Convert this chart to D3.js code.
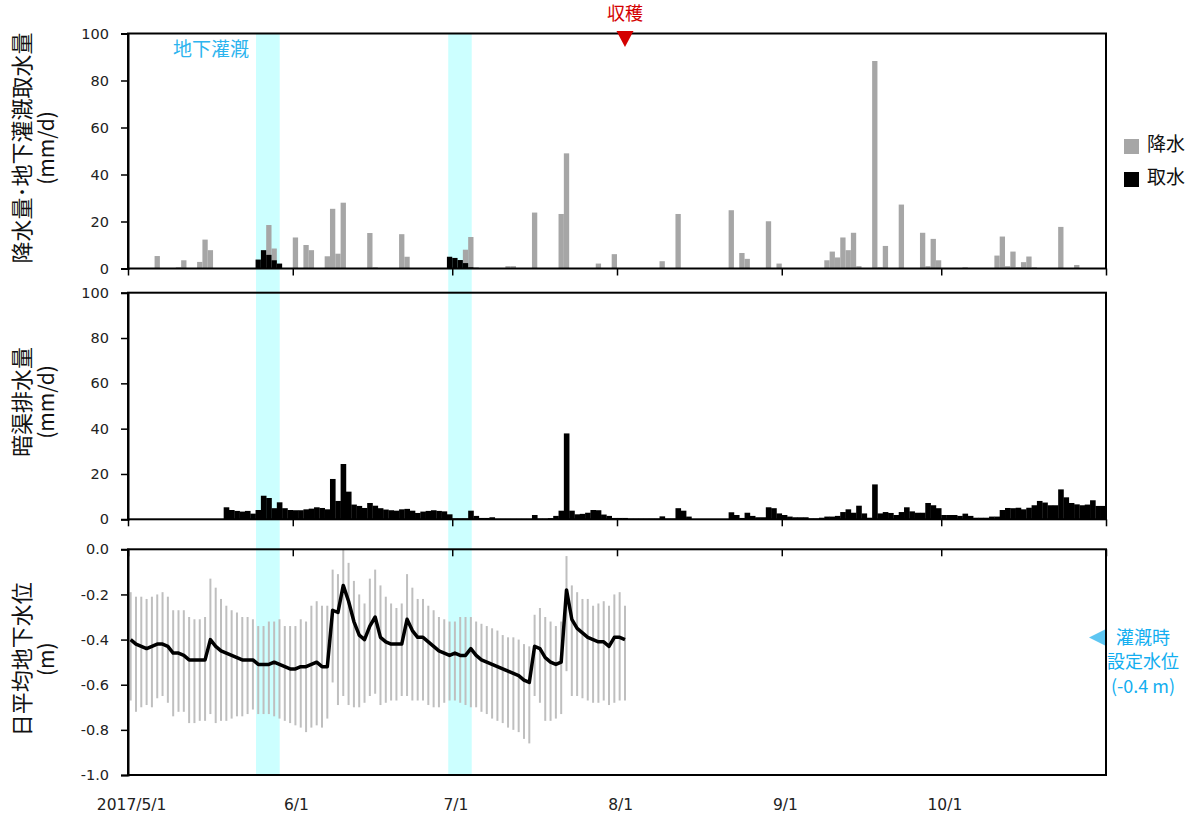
<!DOCTYPE html>
<html>
<head>
<meta charset="utf-8">
<script src="https://cdn.jsdelivr.net/npm/d3@7"></script>
<style>
body { margin: 0; background: #fff; }
.tick text { font-family: "DejaVu Sans", Verdana, sans-serif; font-size: 14.5px; fill: #222; }
.jp { font-family: "Noto Sans CJK JP", sans-serif; }
</style>
</head>
<body>
<svg id="chart" width="1202" height="820"></svg>
<script>
var width = 1202, height = 820

// x axis
var monthTicks = ["2017/5/1", "2017/6/1", "2017/7/1", "2017/8/1", "2017/9/1", "2017/10/1", "2017/11/1"]
var tickLabels = ["2017/5/1", "6/1", "7/1", "8/1", "9/1", "10/1", ""]

// 降水 (mm/d), days without rain left out
var rainfall = [
  ["5/6", 5.3], ["5/10", 0.5], ["5/11", 3.5], ["5/14", 2.8], ["5/15", 12.3], ["5/16", 7.8],
  ["5/27", 18.5], ["5/28", 8.5], ["6/1", 13.2], ["6/3", 10], ["6/4", 7.8], ["6/7", 5.2],
  ["6/8", 25.4], ["6/9", 6.3], ["6/10", 28], ["6/15", 15.1], ["6/16", 0.5], ["6/21", 14.6],
  ["6/22", 5], ["7/3", 8], ["7/4", 13.4], ["7/5", 0.5], ["7/11", 1], ["7/12", 1],
  ["7/16", 23.8], ["7/21", 23.2], ["7/22", 49], ["7/28", 2.1], ["7/31", 6.1], ["8/9", 3.1],
  ["8/12", 23.2], ["8/22", 24.8], ["8/24", 6.6], ["8/25", 4.1], ["8/29", 20.1], ["8/31", 2.1],
  ["9/9", 3.5], ["9/10", 7.2], ["9/11", 4.7], ["9/12", 13.2], ["9/13", 7.8], ["9/14", 15.2],
  ["9/15", 1], ["9/18", 88.3], ["9/19", 0.5], ["9/20", 9.6], ["9/23", 27.2], ["9/27", 15.2],
  ["9/28", 1], ["9/29", 12.6], ["9/30", 3.5], ["10/5", 0.5], ["10/11", 5.5], ["10/12", 13.6],
  ["10/13", 1], ["10/14", 7.2], ["10/15", 0.5], ["10/16", 2.7], ["10/17", 5.1], ["10/18", 0.5],
  ["10/23", 17.7], ["10/26", 1.5]
]

// 取水 (mm/d)
var intake = [
  ["5/25", 3.8], ["5/26", 7.8], ["5/27", 5.8], ["5/28", 3.5], ["5/29", 2.1],
  ["6/30", 5.0], ["7/1", 4.5], ["7/2", 3.6], ["7/3", 2.3], ["7/4", 0.5]
]

// 暗渠排水量 (mm/d), daily from 5/1
var drainage = [
  0, 0, 0, 0, 0, 0, 0, 0, 0, 0, 0, 0, 0, 0, 0, 0, 0, 0, 5.3, 4.1,
  3.7, 3.4, 3.7, 2.5, 4.1, 10.4, 9.4, 4.9, 7.5, 4.9, 4.1, 4.0, 4.0, 4.4, 4.7, 5.3, 5.0, 4.4, 17.8, 8.1,
  24.4, 12.2, 6.5, 5.9, 5.0, 7.2, 6.0, 4.9, 4.3, 4.0, 3.8, 4.4, 4.6, 3.8, 2.8, 3.4, 3.7, 4.0, 3.7, 3.5,
  2.2, 0.4, 0.4, 0.4, 3.8, 1.5, 0.6, 0.6, 0.9, 0.2, 0.2, 0.2, 0.2, 0.2, 0.2, 0.2, 1.9, 0.3, 0.3, 0.5,
  1.5, 3.8, 37.9, 3.8, 2.2, 2.4, 2.9, 4.1, 4.0, 2.1, 1.5, 0.6, 0.6, 0.6, 0.3, 0.3, 0.3, 0.3, 0.3, 0.3,
  1.3, 0.3, 0.3, 4.9, 3.8, 1.2, 0.1, 0.1, 0.1, 0.1, 0.1, 0.1, 0.1, 3.1, 1.9, 0.6, 2.9, 1.5, 0.9, 0.9,
  5.3, 4.9, 2.6, 1.9, 1.2, 0.9, 0.9, 0.9, 0.4, 0.4, 0.7, 1.2, 1.2, 1.5, 3.2, 4.4, 2.9, 6.0, 2.6, 0.7,
  15.4, 2.6, 3.2, 2.8, 1.9, 3.2, 5.3, 3.5, 2.9, 2.9, 7.2, 6.2, 4.9, 1.9, 1.9, 1.9, 1.5, 2.5, 1.5, 0.7,
  0.7, 0.7, 1.2, 1.2, 4.1, 5.0, 4.9, 5.1, 4.4, 5.1, 6.2, 8.1, 7.4, 6.2, 6.2, 13.2, 9.7, 7.2, 6.6, 6.2,
  6.5, 8.4, 5.9, 5.9
]

// 日平均地下水位 (m), daily from 5/1, with daily high / low
var gwMean = [
  -0.40, -0.42, -0.43, -0.44, -0.43, -0.42, -0.42, -0.43, -0.46, -0.46,
  -0.47, -0.49, -0.49, -0.49, -0.49, -0.40, -0.43, -0.45, -0.46, -0.47,
  -0.48, -0.49, -0.49, -0.49, -0.51, -0.51, -0.51, -0.50, -0.51, -0.52,
  -0.53, -0.53, -0.52, -0.52, -0.51, -0.50, -0.52, -0.52, -0.27, -0.28,
  -0.16, -0.23, -0.32, -0.38, -0.40, -0.34, -0.30, -0.39, -0.41, -0.42,
  -0.42, -0.42, -0.31, -0.36, -0.39, -0.39, -0.41, -0.43, -0.45, -0.46,
  -0.47, -0.46, -0.47, -0.47, -0.44, -0.47, -0.49, -0.50, -0.51, -0.52,
  -0.53, -0.54, -0.55, -0.56, -0.58, -0.59, -0.43, -0.44, -0.48, -0.50,
  -0.51, -0.50, -0.18, -0.31, -0.35, -0.37, -0.39, -0.40, -0.41, -0.41,
  -0.43, -0.39, -0.39, -0.40
]
var gwHigh = [
  -0.19, -0.21, -0.21, -0.22, -0.21, -0.20, -0.19, -0.21, -0.27, -0.27,
  -0.27, -0.30, -0.31, -0.31, -0.30, -0.13, -0.17, -0.22, -0.25, -0.27,
  -0.28, -0.30, -0.30, -0.31, -0.34, -0.34, -0.32, -0.32, -0.31, -0.34,
  -0.34, -0.34, -0.31, -0.32, -0.25, -0.23, -0.25, -0.25, -0.09, -0.11,
  0.00, -0.06, -0.14, -0.20, -0.24, -0.13, -0.09, -0.16, -0.21, -0.24,
  -0.26, -0.24, -0.11, -0.17, -0.22, -0.22, -0.25, -0.27, -0.30, -0.31,
  -0.32, -0.32, -0.30, -0.30, -0.30, -0.32, -0.33, -0.34, -0.35, -0.36,
  -0.38, -0.39, -0.39, -0.40, -0.42, -0.43, -0.29, -0.26, -0.30, -0.32,
  -0.34, -0.32, -0.03, -0.16, -0.19, -0.22, -0.22, -0.25, -0.24, -0.23,
  -0.25, -0.20, -0.19, -0.25
]
var gwLow = [
  -0.67, -0.72, -0.70, -0.69, -0.70, -0.66, -0.65, -0.68, -0.74, -0.72,
  -0.72, -0.77, -0.77, -0.76, -0.76, -0.73, -0.77, -0.76, -0.76, -0.75,
  -0.74, -0.74, -0.73, -0.71, -0.73, -0.73, -0.73, -0.74, -0.75, -0.76,
  -0.77, -0.78, -0.79, -0.81, -0.79, -0.78, -0.79, -0.75, -0.59, -0.69,
  -0.65, -0.69, -0.70, -0.70, -0.68, -0.65, -0.64, -0.69, -0.68, -0.67,
  -0.67, -0.65, -0.65, -0.67, -0.67, -0.67, -0.69, -0.70, -0.70, -0.68,
  -0.67, -0.67, -0.68, -0.69, -0.70, -0.70, -0.72, -0.73, -0.75, -0.76,
  -0.77, -0.79, -0.80, -0.81, -0.84, -0.86, -0.65, -0.68, -0.76, -0.76,
  -0.75, -0.73, -0.54, -0.65, -0.65, -0.66, -0.67, -0.68, -0.68, -0.67,
  -0.69, -0.68, -0.67, -0.67
]

// 地下灌漑 periods and harvest day
var irrigation = [["5/25 02:00", "5/29 13:00"], ["6/30 06:00", "7/4 16:00"]]
var harvestDay = "8/2"
var setLevel = -0.4

var parseDay = d3.timeParse("%Y/%m/%d")
var parseTime = d3.timeParse("%Y/%m/%d %H:%M")
var start = parseDay(monthTicks[0])
function md(s) { return parseDay("2017/" + s) }
function dayOf(i) { return d3.timeDay.offset(start, i) }

var svg = d3.select("#chart")

var x = d3.scaleTime()
  .domain([start, parseDay(monthTicks[monthTicks.length - 1])])
  .range([128, 1106])

function dayW(d) { return x(d3.timeDay.offset(d, 1)) - x(d) }
function mid(d) { return x(d) + dayW(d) / 2 }

var yTop = d3.scaleLinear().domain([0, 100]).range([268.5, 33.5])
var yMid = d3.scaleLinear().domain([0, 100]).range([519.3, 292.7])
var yBot = d3.scaleLinear().domain([-1, 0]).range([775, 549.3])

// irrigation bands across all three panels
svg.append("g").selectAll("rect")
  .data(irrigation)
  .enter().append("rect")
  .attr("x", d => x(parseTime("2017/" + d[0])))
  .attr("width", d => x(parseTime("2017/" + d[1])) - x(parseTime("2017/" + d[0])))
  .attr("y", yTop(100))
  .attr("height", yBot(-1) - yTop(100))
  .attr("fill", "#ccffff")

svg.append("text").attr("class", "jp")
  .attr("x", x(parseTime("2017/" + irrigation[0][0])) - 7)
  .attr("y", 56)
  .attr("text-anchor", "end")
  .attr("fill", "#2db4ee")
  .style("font-size", "19px")
  .text("地下灌漑")

// top panel: rainfall and intake
svg.append("g").selectAll("rect")
  .data(rainfall)
  .enter().append("rect")
  .attr("x", d => x(md(d[0])))
  .attr("width", d => dayW(md(d[0])))
  .attr("y", d => yTop(d[1]))
  .attr("height", d => yTop(0) - yTop(d[1]))
  .attr("fill", "#a6a6a6")

svg.append("g").selectAll("rect")
  .data(intake)
  .enter().append("rect")
  .attr("x", d => x(md(d[0])))
  .attr("width", d => dayW(md(d[0])))
  .attr("y", d => yTop(d[1]))
  .attr("height", d => yTop(0) - yTop(d[1]))
  .attr("fill", "#000")

// middle panel: drainage
svg.append("g").selectAll("rect")
  .data(drainage)
  .enter().append("rect")
  .attr("x", (d, i) => x(dayOf(i)))
  .attr("width", (d, i) => dayW(dayOf(i)) + 0.3)
  .attr("y", d => yMid(d))
  .attr("height", d => yMid(0) - yMid(d))
  .attr("fill", "#000")

// bottom panel: daily range and mean
svg.append("g").selectAll("line")
  .data(gwMean)
  .enter().append("line")
  .attr("x1", (d, i) => mid(dayOf(i)))
  .attr("x2", (d, i) => mid(dayOf(i)))
  .attr("y1", (d, i) => yBot(gwHigh[i]))
  .attr("y2", (d, i) => yBot(gwLow[i]))
  .attr("stroke", "#bfbfbf")
  .attr("stroke-width", 2)

svg.append("path")
  .datum(gwMean)
  .attr("fill", "none")
  .attr("stroke", "#000")
  .attr("stroke-width", 3.5)
  .attr("stroke-linejoin", "round")
  .attr("d", d3.line().x((d, i) => mid(dayOf(i))).y(d => yBot(d)))

// frames and axes
var ticks = monthTicks.map(parseDay)
var panels = [
  {y: yTop, vals: [0, 20, 40, 60, 80, 100], fmt: d => d, xAt: 268.5},
  {y: yMid, vals: [0, 20, 40, 60, 80, 100], fmt: d => d, xAt: 519.3},
  {y: yBot, vals: [-1, -0.8, -0.6, -0.4, -0.2, 0], fmt: d => d.toFixed(1), xAt: 549.3}
]

panels.forEach(p => {
  var r = p.y.range()
  svg.append("rect")
    .attr("x", 128).attr("y", r[1])
    .attr("width", 1106 - 128).attr("height", r[0] - r[1])
    .attr("fill", "none").attr("stroke", "#000").attr("stroke-width", 2)

  var ya = svg.append("g")
    .attr("transform", "translate(128,0)")
    .call(d3.axisLeft(p.y).tickValues(p.vals).tickFormat(p.fmt).tickSize(7).tickPadding(12))
  ya.select(".domain").attr("stroke-width", 2)
  ya.selectAll(".tick line").attr("stroke-width", 1.5)

  var xa = svg.append("g")
    .attr("transform", "translate(0," + p.xAt + ")")
    .call(d3.axisBottom(x).tickValues(ticks).tickFormat("").tickSize(7))
  xa.select(".domain").remove()
  xa.selectAll(".tick line").attr("stroke-width", 1.5)
})

// x labels under the bottom panel
svg.append("g").selectAll("text")
  .data(ticks)
  .enter().append("text")
  .attr("x", d => mid(d) + 1)
  .attr("y", 810)
  .attr("text-anchor", "middle")
  .style("font-family", "'DejaVu Sans', Verdana, sans-serif")
  .style("font-size", "15.5px")
  .attr("fill", "#222")
  .text((d, i) => tickLabels[i])

// y titles
var titles = [
  {lines: ["降水量･地下灌漑取水量", "(mm/d)"], y: yTop, dy: -3},
  {lines: ["暗渠排水量", "(mm/d)"], y: yMid, dy: -4},
  {lines: ["日平均地下水位", "(m)"], y: yBot, dy: -3}
]
titles.forEach(t => {
  var cy = (t.y.range()[0] + t.y.range()[1]) / 2 + t.dy
  t.lines.forEach((s, j) => {
    svg.append("text").attr("class", "jp")
      .attr("transform", "translate(" + (20 + j * 25) + "," + cy + ") rotate(-90)")
      .attr("text-anchor", "middle")
      .attr("dominant-baseline", "central")
      .style("font-size", j == 0 ? "22px" : "21px")
      .attr("fill", "#111")
      .text(s)
  })
})

// harvest marker
var hx = mid(md(harvestDay))
svg.append("path")
  .attr("d", "M" + (hx - 8.5) + ",31 L" + (hx + 8.5) + ",31 L" + hx + ",47 Z")
  .attr("fill", "#d40000")
svg.append("text").attr("class", "jp")
  .attr("x", hx).attr("y", 20)
  .attr("text-anchor", "middle")
  .attr("fill", "#d40000")
  .style("font-size", "18px")
  .text("収穫")

// legend
var legend = [["降水", "#a6a6a6"], ["取水", "#000"]]
legend.forEach((l, i) => {
  svg.append("rect")
    .attr("x", 1124).attr("y", 139 + i * 33)
    .attr("width", 15).attr("height", 15)
    .attr("fill", l[1])
  svg.append("text").attr("class", "jp")
    .attr("x", 1147).attr("y", 142 + i * 33.5)
    .attr("dominant-baseline", "central")
    .style("font-size", "19px")
    .attr("fill", "#111")
    .text(l[0])
})

// set water level note
var ly = yBot(setLevel)
svg.append("path")
  .attr("d", "M1089," + (ly - 2) + " L1105," + (ly - 10) + " L1105," + (ly + 6) + " Z")
  .attr("fill", "#5ec6f2")
var note = ["灌漑時", "設定水位", "(-0.4 m)"]
svg.append("g").selectAll("text")
  .data(note)
  .enter().append("text").attr("class", "jp")
  .attr("x", 1143)
  .attr("y", (d, i) => ly + 4 + i * 24.5)
  .attr("text-anchor", "middle")
  .attr("fill", "#12aef0")
  .style("font-size", "18px")
  .text(d => d)
</script>
</body>
</html>
